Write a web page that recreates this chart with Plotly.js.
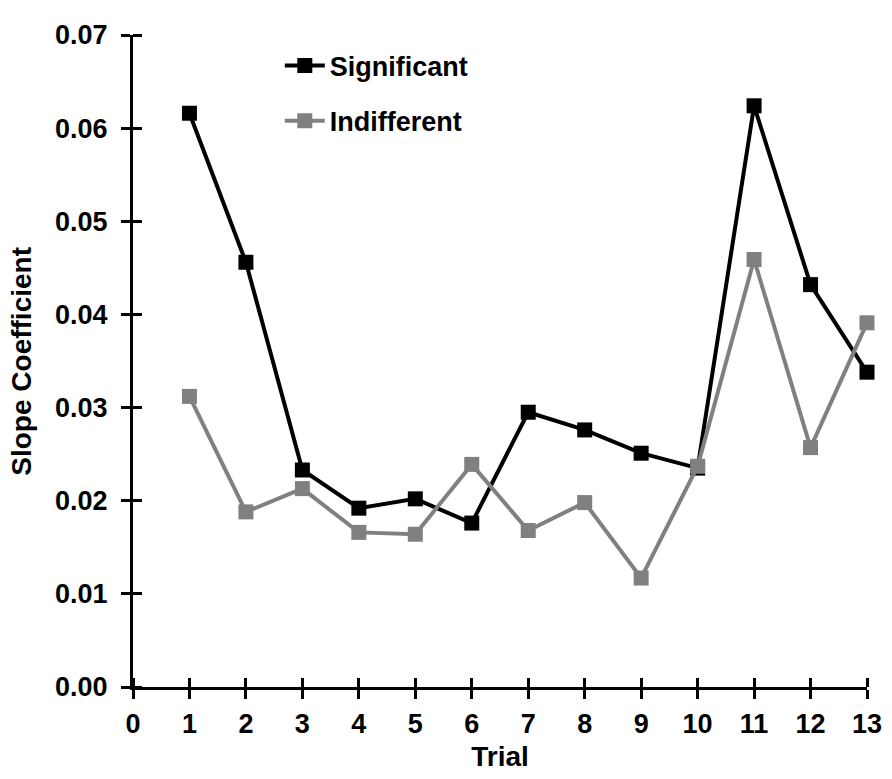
<!DOCTYPE html>
<html>
<head>
<meta charset="utf-8">
<script src="https://cdn.plot.ly/plotly-3.0.1.min.js"></script>
<style>html,body{margin:0;padding:0;background:#fff;}#chart{width:892px;height:779px;}</style>
</head>
<body>
<div id="chart"></div>
<script>
var trials = [1, 2, 3, 4, 5, 6, 7, 8, 9, 10, 11, 12, 13];
var significant = [0.0616, 0.0456, 0.0233, 0.0192, 0.0202, 0.0176, 0.0295, 0.0276, 0.0251, 0.0235, 0.0624, 0.0432, 0.0338];
var indifferent = [0.0312, 0.0188, 0.0213, 0.0166, 0.0164, 0.0239, 0.0168, 0.0198, 0.0117, 0.0237, 0.0459, 0.0257, 0.0391];
var xTicks = [0, 1, 2, 3, 4, 5, 6, 7, 8, 9, 10, 11, 12, 13];
var yTicks = [0, 0.01, 0.02, 0.03, 0.04, 0.05, 0.06, 0.07];
var yTickLabels = ["0.00", "0.01", "0.02", "0.03", "0.04", "0.05", "0.06", "0.07"];

var fontFam = "Liberation Sans, Arial, sans-serif";

var traces = [
  {
    x: trials, y: significant, name: "Significant", type: "scatter", mode: "lines+markers",
    line: {color: "#000000", width: 4}, marker: {symbol: "square", size: 15, color: "#000000"},
    legendgroup: "a", cliponaxis: false
  },
  {
    x: trials, y: indifferent, name: "Indifferent", type: "scatter", mode: "lines+markers",
    line: {color: "#808080", width: 4}, marker: {symbol: "square", size: 15, color: "#808080"},
    legendgroup: "b", cliponaxis: false
  }
];

var axFont = {family: fontFam, size: 27, color: "#000", weight: "bold"};
var layout = {
  width: 892, height: 779,
  margin: {l: 133, r: 25, t: 35, b: 92, pad: 0},
  paper_bgcolor: "#fff", plot_bgcolor: "#fff",
  showlegend: true,
  legend: {x: 0.2, y: 0.99, xanchor: "left", yanchor: "top", bgcolor: "rgba(0,0,0,0)",
    font: {family: fontFam, size: 27, color: "#000", weight: "bold"}, tracegroupgap: 17, itemwidth: 40},
  xaxis: {
    range: [0, 13], tickvals: xTicks, ticktext: xTicks.map(String), ticks: "outside", ticklen: 9, tickwidth: 3,
    tickcolor: "#000", showline: true, linecolor: "#000", linewidth: 3, showgrid: false, zeroline: false,
    tickfont: axFont, ticklabelstandoff: 2,
    minor: {tickvals: xTicks.map(function (v) { return v + 1e-7; }), ticks: "inside", ticklen: 9, tickwidth: 3, tickcolor: "#000", showgrid: false},
    title: {text: "Trial", font: {family: fontFam, size: 28, color: "#000", weight: "bold"}, standoff: 8}
  },
  yaxis: {
    range: [0, 0.07], tickvals: yTicks, ticktext: yTickLabels, ticks: "outside", ticklen: 9, tickwidth: 3,
    tickcolor: "#000", showline: true, linecolor: "#000", linewidth: 3, showgrid: false, zeroline: false,
    tickfont: axFont, ticklabelstandoff: 8,
    minor: {tickvals: yTicks.map(function (v) { return v + 1e-10; }), ticks: "inside", ticklen: 9, tickwidth: 3, tickcolor: "#000", showgrid: false}
  },
  annotations: [{
    text: "Slope Coefficient", textangle: -90, xref: "paper", yref: "paper",
    x: -0.153, y: 0.5, xanchor: "center", yanchor: "middle", showarrow: false,
    font: {family: fontFam, size: 28, color: "#000", weight: "bold"}
  }]
};
Plotly.newPlot("chart", traces, layout, {staticPlot: true, displayModeBar: false});
</script>
</body>
</html>
